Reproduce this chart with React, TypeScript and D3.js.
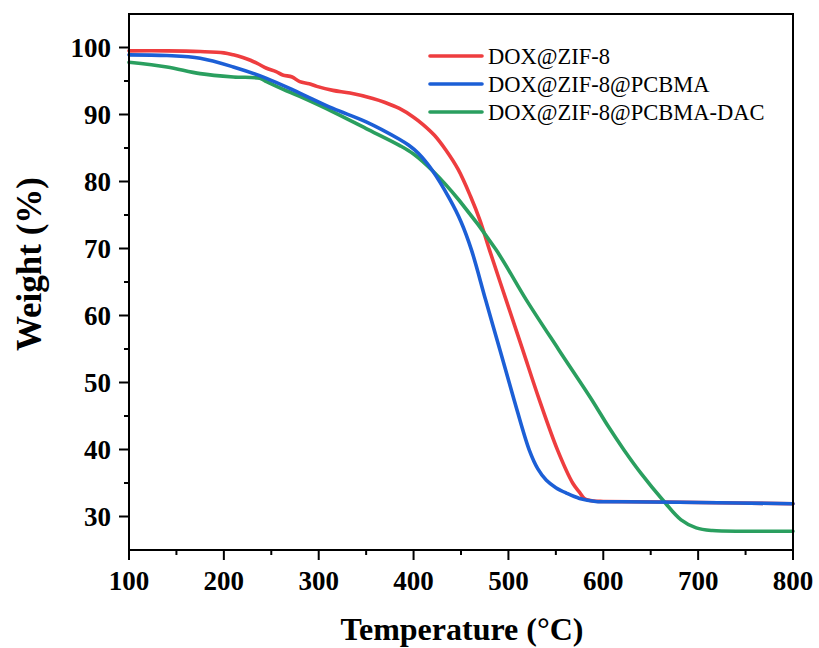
import React from "react";
import * as d3 from "d3";

const W = 819;
const H = 648;

const redT = [100, 140, 175, 200, 210, 220, 228, 237, 245, 255, 262, 272, 280, 290, 298, 315, 333, 357, 370, 385, 400, 410, 422, 434, 447, 460, 470, 480, 497.6, 515, 532.6, 551.8, 567.7, 575, 580, 590, 600, 700, 800];
const redW = [99.5, 99.5, 99.4, 99.2, 98.9, 98.5, 98.1, 97.5, 96.9, 96.4, 95.9, 95.6, 94.9, 94.6, 94.2, 93.6, 93.2, 92.4, 91.8, 90.9, 89.6, 88.5, 86.9, 84.7, 81.8, 77.8, 74.2, 69.8, 62.3, 54.9, 47.4, 39.9, 35.0, 33.6, 32.7, 32.3, 32.25, 32.1, 31.9];

const blueT = [100, 140, 175, 210, 245, 280, 315, 350, 385, 395, 405, 420, 438, 450, 461, 476, 491, 506, 522, 531, 540, 550, 561, 575, 592, 620, 700, 800];
const blueW = [98.9, 98.8, 98.4, 97.1, 95.4, 93.2, 90.9, 88.9, 86.3, 85.4, 84.2, 81.6, 77.4, 74.0, 69.8, 62.3, 54.9, 47.4, 39.9, 37.1, 35.4, 34.3, 33.5, 32.7, 32.25, 32.2, 32.1, 31.9];

const greenT = [100, 140, 175, 210, 238, 245, 262, 280, 315, 350, 385, 400, 420, 448, 487, 519, 553, 588, 605, 622, 640, 662.5, 682, 698, 715, 750, 800];
const greenW = [97.8, 97.1, 96.1, 95.6, 95.4, 94.9, 93.8, 92.7, 90.4, 87.9, 85.4, 84.1, 81.6, 77.2, 69.8, 62.3, 54.9, 47.4, 43.5, 39.9, 36.4, 32.5, 29.5, 28.3, 27.9, 27.8, 27.8];

const seriesNames = ["DOX@ZIF-8", "DOX@ZIF-8@PCBMA", "DOX@ZIF-8@PCBMA-DAC"];
const seriesColors = ["#ee3d3f", "#1c5fd6", "#2a9f5f"];

const xMajor = [100, 200, 300, 400, 500, 600, 700, 800];
const xMinor = [150, 250, 350, 450, 550, 650, 750];
const yMajor = [30, 40, 50, 60, 70, 80, 90, 100];
const yMinor = [35, 45, 55, 65, 75, 85, 95];

const left = 129;
const right = 793;
const top = 14;
const bottom = 550;

export default function App() {
  const x = d3.scaleLinear().domain([100, 800]).range([left, right]);
  const y = d3.scaleLinear().domain([25, 105]).range([bottom, top]);
  const line = d3
    .line<[number, number]>()
    .x((d) => x(d[0]))
    .y((d) => y(d[1]))
    .curve(d3.curveCatmullRom.alpha(0.5));

  const series = [
    redT.map((t, i) => [t, redW[i]] as [number, number]),
    blueT.map((t, i) => [t, blueW[i]] as [number, number]),
    greenT.map((t, i) => [t, greenW[i]] as [number, number]),
  ];
  const drawOrder = [0, 2, 1];
  const font = "'Liberation Serif', 'Times New Roman', serif";

  return (
    <div style={{ position: "fixed", left: 0, top: 0 }}>
      <svg width={W} height={H} style={{ display: "block", background: "#fff" }}>
        <rect x={0} y={0} width={W} height={H} fill="#fff" />
        {drawOrder.map((i) => (
          <path
            key={i}
            d={line(series[i]) || ""}
            fill="none"
            stroke={seriesColors[i]}
            strokeWidth={3.6}
            strokeLinejoin="round"
            strokeLinecap="round"
          />
        ))}
        <rect
          x={left}
          y={top}
          width={right - left}
          height={bottom - top}
          fill="none"
          stroke="#000"
          strokeWidth={2}
        />
        {xMajor.map((v) => (
          <g key={"xm" + v}>
            <line x1={x(v)} x2={x(v)} y1={bottom} y2={bottom + 10} stroke="#000" strokeWidth={2} />
            <text
              x={x(v)}
              y={590}
              textAnchor="middle"
              fontFamily={font}
              fontWeight="bold"
              fontSize={27}
              fill="#000"
            >
              {v}
            </text>
          </g>
        ))}
        {xMinor.map((v) => (
          <line key={"xn" + v} x1={x(v)} x2={x(v)} y1={bottom} y2={bottom + 5} stroke="#000" strokeWidth={2} />
        ))}
        {yMajor.map((v) => (
          <g key={"ym" + v}>
            <line x1={left - 10} x2={left} y1={y(v)} y2={y(v)} stroke="#000" strokeWidth={2} />
            <text
              x={111}
              y={y(v) + 9}
              textAnchor="end"
              fontFamily={font}
              fontWeight="bold"
              fontSize={27}
              fill="#000"
            >
              {v}
            </text>
          </g>
        ))}
        {yMinor.map((v) => (
          <line key={"yn" + v} x1={left - 5} x2={left} y1={y(v)} y2={y(v)} stroke="#000" strokeWidth={2} />
        ))}
        <text
          x={462}
          y={640}
          textAnchor="middle"
          fontFamily={font}
          fontWeight="bold"
          fontSize={32}
          fill="#000"
        >
          Temperature (°C)
        </text>
        <text
          transform={`translate(41, 264) rotate(-90)`}
          textAnchor="middle"
          fontFamily={font}
          fontWeight="bold"
          fontSize={35}
          fill="#000"
        >
          Weight (%)
        </text>
        {seriesNames.map((name, i) => {
          const ly = 56 + i * 28;
          return (
            <g key={name}>
              <line x1={430} x2={482} y1={ly} y2={ly} stroke={seriesColors[i]} strokeWidth={3.6} strokeLinecap="round" />
              <text x={488} y={ly + 8} fontFamily={font} fontSize={22.5} fill="#000">
                {name}
              </text>
            </g>
          );
        })}
      </svg>
    </div>
  );
}
